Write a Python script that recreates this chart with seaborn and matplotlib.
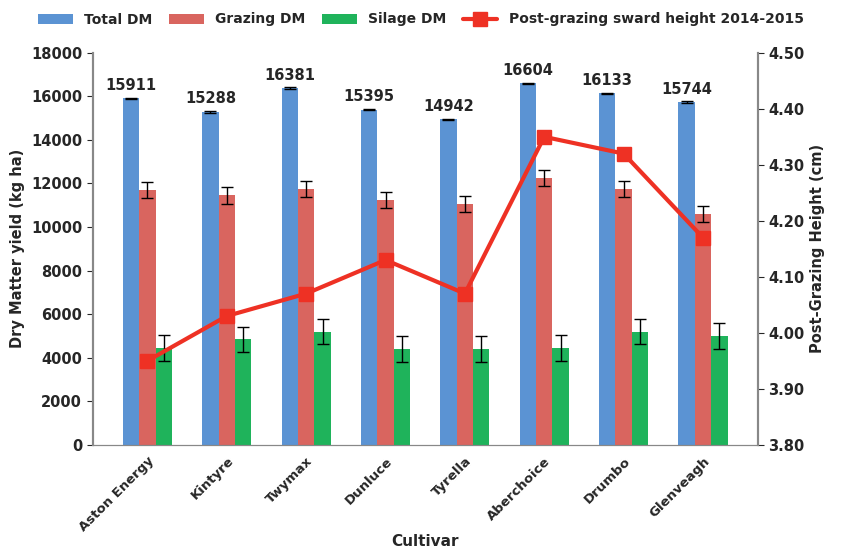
import pandas as pd
import numpy as np
import seaborn as sns
import matplotlib.pyplot as plt

cultivars = ['Aston Energy', 'Kintyre', 'Twymax', 'Dunluce', 'Tyrella', 'Aberchoice', 'Drumbo', 'Glenveagh']
total_dm = [15911, 15288, 16381, 15395, 14942, 16604, 16133, 15744]
grazing_dm = [11700, 11450, 11750, 11250, 11050, 12250, 11750, 10600]
grazing_err = [380, 380, 380, 380, 380, 380, 380, 380]
silage_dm = [4450, 4850, 5200, 4400, 4400, 4450, 5200, 5000]
silage_err = [580, 580, 580, 580, 580, 580, 580, 580]
total_err = [30, 30, 30, 30, 30, 30, 30, 30]
sward_height = [3.95, 4.03, 4.07, 4.13, 4.07, 4.35, 4.32, 4.17]

sns.set_style('white')
plt.rcParams['font.family'] = ['DejaVu Sans']
plt.rcParams['font.weight'] = 'bold'

df = pd.DataFrame({
    'Cultivar': cultivars * 3,
    'value': total_dm + grazing_dm + silage_dm,
    'err': total_err + grazing_err + silage_err,
    'type': ['Total DM'] * 8 + ['Grazing DM'] * 8 + ['Silage DM'] * 8,
})

fig, ax = plt.subplots(figsize=(8.42, 5.56), dpi=100)
sns.barplot(data=df, x='Cultivar', y='value', hue='type', ax=ax, saturation=1,
            palette=['#5b93d3', '#d9655f', '#1fb35b'], width=0.62, errorbar=None,
            linewidth=0)

# error bars on each bar
for cont, series in zip(ax.containers, ['Total DM', 'Grazing DM', 'Silage DM']):
    sub = df[df['type'] == series]
    xs = [p.get_x() + p.get_width() / 2 for p in cont]
    ax.errorbar(xs, sub['value'], yerr=sub['err'], fmt='none', ecolor='black',
                elinewidth=1, capsize=4)
    if series == 'Total DM':
        for x, v in zip(xs, sub['value']):
            ax.text(x, v + 250, str(v), ha='center', va='bottom', fontsize=10.5, fontweight='bold')

ax.set_ylim(0, 18000)
ax.set_yticks(range(0, 18001, 2000))
ax.set_xlabel('Cultivar', fontsize=11, fontweight='bold', labelpad=0)
ax.set_ylabel('Dry Matter yield (kg ha)', fontsize=10.5, fontweight='bold')
ax.tick_params(axis='x', labelrotation=45, labelsize=9.5)
for t in ax.get_xticklabels():
    t.set_ha('right')
    t.set_rotation_mode('anchor')
ax.tick_params(axis='y', labelsize=10.5, left=True, length=4)

ax2 = ax.twinx()
ax2.plot(range(len(cultivars)), sward_height, color='#ee3124', lw=3, marker='s',
         markersize=10, label='Post-grazing sward height 2014-2015')
ax2.set_ylim(3.8, 4.5)
ax2.set_yticks(np.arange(3.8, 4.501, 0.1))
ax2.set_yticklabels([f'{v:.2f}' for v in np.arange(3.8, 4.501, 0.1)])
ax2.set_ylabel('Post-Grazing Height (cm)', fontsize=10.5, fontweight='bold')
ax2.tick_params(axis='y', labelsize=10.5, right=True, length=4)

for a in (ax, ax2):
    for s in a.spines.values():
        s.set_color('#888888')
    a.spines['top'].set_visible(False)
    a.spines['left'].set_linewidth(1.5)
    a.spines['right'].set_linewidth(1.5)

h1, l1 = ax.get_legend_handles_labels()
h2, l2 = ax2.get_legend_handles_labels()
ax.legend_.remove()
fig.legend(h1 + h2, l1 + l2, loc='upper center', ncol=4, frameon=False,
           fontsize=10, bbox_to_anchor=(0.5, 1.0), handlelength=2.5, columnspacing=1.2)

fig.subplots_adjust(left=0.11, right=0.9, top=0.905, bottom=0.2)
fig.savefig('out.png', dpi=100)
